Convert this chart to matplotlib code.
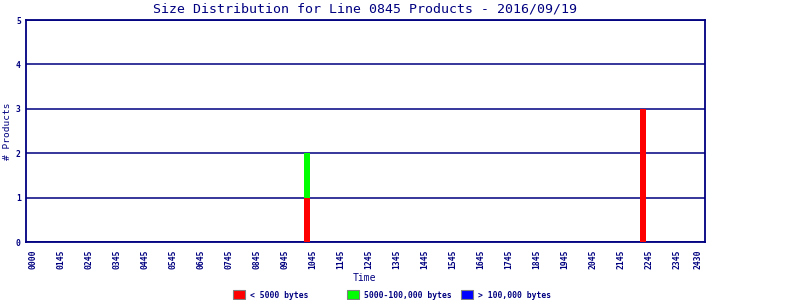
import matplotlib
matplotlib.use("Agg")
import matplotlib.pyplot as plt
from matplotlib.patches import Rectangle

# data
title = "Size Distribution for Line 0845 Products - 2016/09/19"
tick_hours = list(range(24)) + [23.75]
tick_labels = ["0000"] + ["%02d45" % h for h in range(1, 24)] + ["2430"]
bin_hours = [9.78, 21.78]
small = [1, 3]
medium = [1, 0]
large = [0, 0]

series_names = ["< 5000 bytes", "5000-100,000 bytes", "> 100,000 bytes"]
series_colors = ["#ff0000", "#00ff00", "#0000ff"]
navy = "#000080"

plt.rcParams["font.family"] = "DejaVu Sans Mono"

fig = plt.figure(figsize=(8, 3), dpi=100)
ax = fig.add_axes([0.033, 0.193, 0.848, 0.74])

bottom = [0] * len(bin_hours)
for vals, col in zip([small, medium, large], series_colors):
    ax.bar(bin_hours, vals, width=0.22, bottom=bottom, color=col, zorder=3)
    bottom = [b + v for b, v in zip(bottom, vals)]

ax.set_xlim(-0.23, 24.0)
ax.set_ylim(0, 5)
ax.set_yticks(range(6))
ax.set_xticks(tick_hours)
ax.set_xticklabels(tick_labels, rotation=90, fontsize=5.8, color=navy,
                   fontweight="bold")
for lab in ax.get_yticklabels():
    lab.set_fontweight("bold")
ax.tick_params(axis="y", labelsize=5.8, labelcolor=navy, length=0, pad=4)
ax.tick_params(axis="x", length=0, pad=5)
ax.grid(axis="y", color=navy, linewidth=1.1, zorder=1)
for s in ax.spines.values():
    s.set_color(navy)
    s.set_linewidth(1.3)

fig.text(0.456, 0.97, title, ha="center", va="center", fontsize=9.5, color=navy)
fig.text(0.01, 0.563, "# Products", rotation=90, ha="center", va="center",
         fontsize=6.8, color=navy)
fig.text(0.456, 0.073, "Time", ha="center", va="center", fontsize=7, color=navy)

# legend drawn as a fixed row of boxes, like the original image
for i, (name, col) in enumerate(zip(series_names, series_colors)):
    x0 = 233 + 114 * i
    fig.patches.append(Rectangle((x0 / 800, 1 - 299 / 300), 12 / 800, 9 / 300,
                                 transform=fig.transFigure, facecolor=col,
                                 edgecolor="#808080", linewidth=0.8))
    fig.text((x0 + 17) / 800, 1 - 295 / 300, name, ha="left", va="center",
             fontsize=5.8, color=navy, fontweight="bold")

fig.savefig("out.png", dpi=100)
